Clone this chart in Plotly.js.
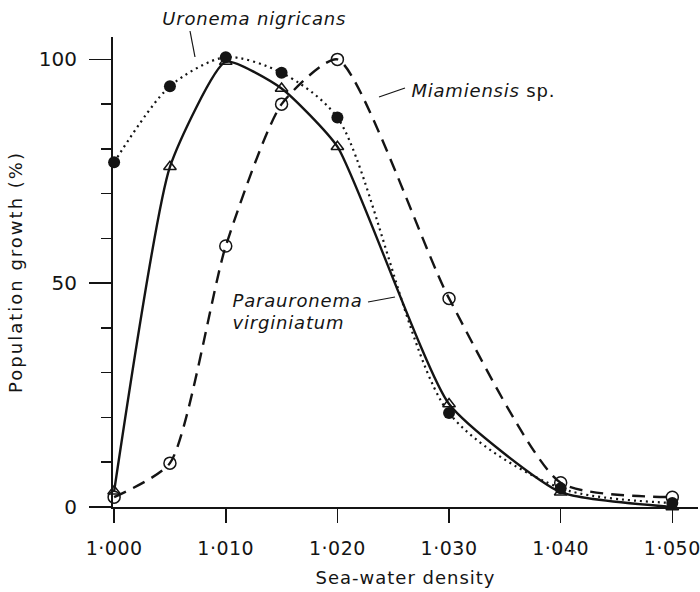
<!DOCTYPE html>
<html>
<head>
<meta charset="utf-8">
<script src="https://cdn.plot.ly/plotly-3.0.1.min.js"></script>
<style>
html,body{margin:0;padding:0;background:#fff;}
#chart{width:700px;height:592px;}
#chart .ytitle{letter-spacing:2px;}
#chart .xtitle{letter-spacing:1px;}
#chart .annotation-text{letter-spacing:0.8px;}
#chart .xtick text{letter-spacing:0.5px;}
</style>
</head>
<body>
<div id="chart"></div>
<script>
// ---- data ----
var density = [1.000, 1.005, 1.010, 1.015, 1.020, 1.030, 1.040, 1.050];
var uronema = [77, 94, 100.5, 97, 87, 21, 4.2, 0.9];        // filled circles, dotted
var parauronema = [3.5, 76, 99.5, 93.5, 80.5, 23, 3.3, 0];   // open triangles, solid
var miamiensis = [2.2, 9.8, 58.3, 90, 100, 46.6, 5.4, 2.2];  // open circles, dashed
var xTickVals = [1.000, 1.010, 1.020, 1.030, 1.040, 1.050];
var xTickText = ['1·000', '1·010', '1·020', '1·030', '1·040', '1·050'];
var yTickVals = [0, 50, 100];
var yTickText = ['0', '50', '100'];

var FONT = 'DejaVu Sans, sans-serif';
var INK = '#141414';

// pixel -> paper helpers for label/leader placement (plot area: x 113..698, y 37..507)
function PX(px) { return (px - 113) / 585; }
function PY(py) { return (507 - py) / 470; }

var traces = [
  {x: density, y: miamiensis, mode: 'lines+markers', cliponaxis: false,
   line: {color: INK, width: 2.4, dash: '13px,8px', shape: 'spline', smoothing: 0.6},
   marker: {symbol: 'circle-open', size: 12, color: INK, line: {width: 1.5, color: INK}}},
  {x: density, y: parauronema, mode: 'lines+markers', cliponaxis: false,
   line: {color: INK, width: 2.4, shape: 'spline', smoothing: 0.5},
   marker: {symbol: 'triangle-up-open', size: 11, color: INK, line: {width: 1.5, color: INK}}},
  {x: density, y: uronema, mode: 'lines+markers', cliponaxis: false,
   line: {color: INK, width: 2.2, dash: '2px,4px', shape: 'spline', smoothing: 0.8},
   marker: {symbol: 'circle', size: 12, color: INK}}
];

var layout = {
  width: 700, height: 592,
  margin: {l: 113, r: 2, t: 37, b: 85},
  paper_bgcolor: '#fff', plot_bgcolor: '#fff',
  showlegend: false,
  font: {family: FONT, color: INK},
  xaxis: {
    range: [0.9999, 1.0523], showgrid: false, zeroline: false,
    showline: true, linecolor: INK, linewidth: 2,
    ticks: 'outside', ticklen: 14, tickwidth: 1.5, tickcolor: INK,
    tickvals: xTickVals, ticktext: xTickText, ticklabelstandoff: 9,
    tickfont: {family: FONT, size: 19, color: INK},
    title: {text: 'Sea-water density', font: {family: FONT, size: 18, color: INK}, standoff: 14}
  },
  yaxis: {
    range: [0, 105], showgrid: false, zeroline: false,
    showline: true, linecolor: INK, linewidth: 2,
    ticks: 'outside', ticklen: 22, tickwidth: 1.5, tickcolor: INK,
    tickvals: yTickVals, ticktext: yTickText, ticklabelstandoff: 8,
    tickfont: {family: FONT, size: 20, color: INK},
    minor: {dtick: 10, ticks: 'outside', ticklen: 10, tickwidth: 1.5, tickcolor: INK, showgrid: false},
    title: {text: 'Population growth (%)', font: {family: FONT, size: 18, color: INK}, standoff: 12}
  },
  annotations: [
    {x: PX(167), y: PY(18), xref: 'paper', yref: 'paper', xanchor: 'left', yanchor: 'middle', showarrow: false,
     text: '<i>Uronema nigricans</i>', font: {family: FONT, size: 18, color: INK}},
    {x: PX(415), y: PY(90), xref: 'paper', yref: 'paper', xanchor: 'left', yanchor: 'middle', showarrow: false,
     text: '<i>Miamiensis</i> sp.', font: {family: FONT, size: 18, color: INK}},
    {x: PX(235), y: PY(300), xref: 'paper', yref: 'paper', xanchor: 'left', yanchor: 'middle', showarrow: false,
     text: '<i>Parauronema</i>', font: {family: FONT, size: 18, color: INK}},
    {x: PX(235), y: PY(322), xref: 'paper', yref: 'paper', xanchor: 'left', yanchor: 'middle', showarrow: false,
     text: '<i>virginiatum</i>', font: {family: FONT, size: 18, color: INK}}
  ],
  shapes: [
    {type: 'line', xref: 'paper', yref: 'paper', x0: PX(190), y0: PY(31), x1: PX(195), y1: PY(57), line: {color: INK, width: 1.2}},
    {type: 'line', xref: 'paper', yref: 'paper', x0: PX(379), y0: PY(97), x1: PX(405), y1: PY(88), line: {color: INK, width: 1.2}},
    {type: 'line', xref: 'paper', yref: 'paper', x0: PX(368), y0: PY(302), x1: PX(395), y1: PY(297), line: {color: INK, width: 1.2}}
  ]
};

Plotly.newPlot('chart', traces, layout, {displayModeBar: false, staticPlot: true});
</script>
</body>
</html>
